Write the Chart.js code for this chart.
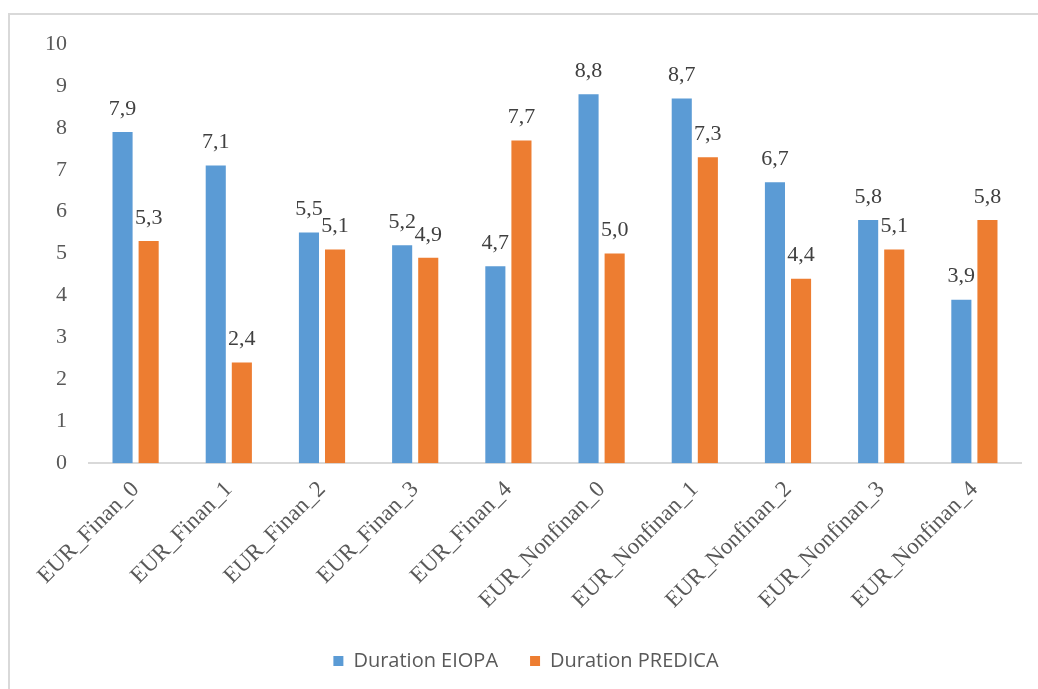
<!DOCTYPE html>
<html lang="en">
<head>
    <meta charset="UTF-8" />
    <title>Duration EIOPA vs PREDICA</title>
    <script src="https://cdn.jsdelivr.net/npm/chart.js"></script>
    <style>
        html, body { margin: 0; padding: 0; background: #fff; }
        #frame {
            position: absolute; left: 8px; top: 13px; width: 1030px; height: 676px;
            border-left: 2px solid #d9d9d9; border-top: 2px solid #d9d9d9;
        }
        #wrap { position: absolute; left: 0; top: 0; width: 1038px; height: 689px; }
    </style>
</head>
<body>
    <div id="frame"></div>
    <div id="wrap"><canvas id="durationChart"></canvas></div>

    <script>
        const categories = ["EUR_Finan_0", "EUR_Finan_1", "EUR_Finan_2", "EUR_Finan_3", "EUR_Finan_4",
            "EUR_Nonfinan_0", "EUR_Nonfinan_1", "EUR_Nonfinan_2", "EUR_Nonfinan_3", "EUR_Nonfinan_4"];
        const durationEiopa = [7.9, 7.1, 5.5, 5.2, 4.7, 8.8, 8.7, 6.7, 5.8, 3.9];
        const durationPredica = [5.3, 2.4, 5.1, 4.9, 7.7, 5.0, 7.3, 4.4, 5.1, 5.8];
        const yTicks = [0, 1, 2, 3, 4, 5, 6, 7, 8, 9, 10];

        const serif = "'Liberation Serif', 'Times New Roman', serif";

        // value labels above each bar, decimal comma
        const valueLabels = {
            id: "valueLabels",
            afterDatasetsDraw(chart) {
                const ctx = chart.ctx;
                ctx.save();
                ctx.font = "22px " + serif;
                ctx.fillStyle = "#404040";
                ctx.textAlign = "center";
                ctx.textBaseline = "bottom";
                chart.data.datasets.forEach((ds, i) => {
                    chart.getDatasetMeta(i).data.forEach((bar, j) => {
                        const txt = ds.data[j].toFixed(1).replace(".", ",");
                        ctx.fillText(txt, bar.x, bar.y - 12);
                    });
                });
                ctx.restore();
            }
        };

        const ctx = document.getElementById("durationChart").getContext("2d");
        new Chart(ctx, {
            type: "bar",
            data: {
                labels: categories,
                datasets: [
                    { label: "Duration EIOPA", data: durationEiopa, backgroundColor: "#5b9bd5",
                      categoryPercentage: 0.56, barPercentage: 0.77 },
                    { label: "Duration PREDICA", data: durationPredica, backgroundColor: "#ed7d31",
                      categoryPercentage: 0.56, barPercentage: 0.77 }
                ]
            },
            options: {
                responsive: true,
                maintainAspectRatio: false,
                animation: false,
                layout: { padding: { left: 31, right: 17, top: 44, bottom: 8 } },
                plugins: {
                    legend: {
                        position: "bottom",
                        labels: {
                            boxWidth: 10, boxHeight: 10, padding: 32,
                            color: "#595959",
                            font: { family: "'Open Sans', sans-serif", size: 20 }
                        }
                    },
                    tooltip: { enabled: false }
                },
                scales: {
                    x: {
                        grid: { display: false },
                        border: { display: true, color: "#d9d9d9", width: 2 },
                        ticks: {
                            minRotation: 45, maxRotation: 45,
                            padding: 5,
                            color: "#595959",
                            font: { family: serif, size: 23 }
                        }
                    },
                    y: {
                        min: 0, max: 10,
                        afterBuildTicks: axis => { axis.ticks = yTicks.map(v => ({ value: v })); },
                        grid: { display: false },
                        border: { display: false },
                        ticks: {
                            padding: 14,
                            color: "#595959",
                            font: { family: serif, size: 22 }
                        }
                    }
                }
            },
            plugins: [valueLabels]
        });
    </script>
</body>
</html>
